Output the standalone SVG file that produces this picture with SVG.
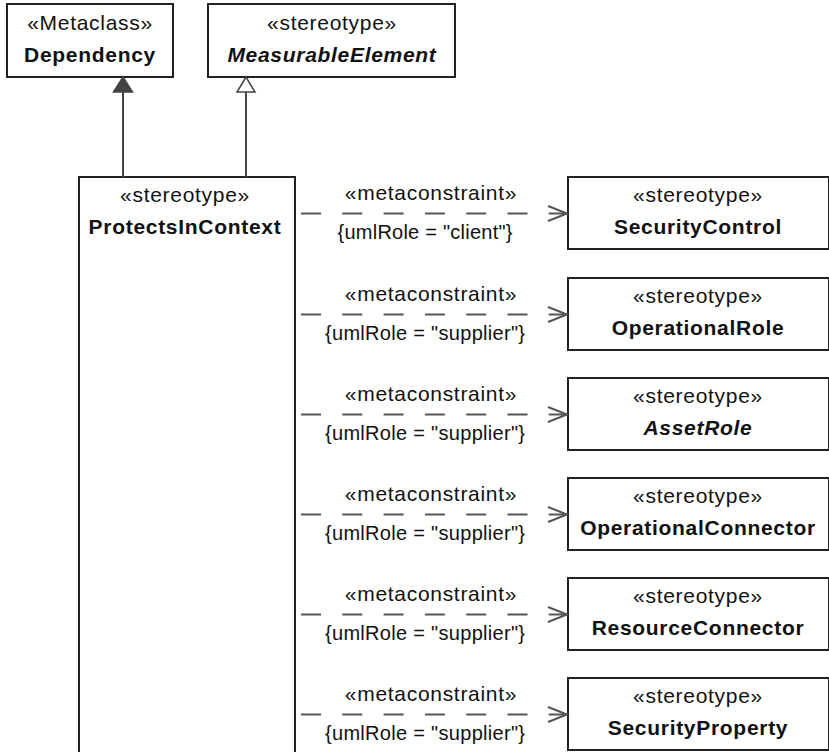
<svg xmlns="http://www.w3.org/2000/svg" width="829" height="752" viewBox="0 0 829 752">
<defs>
<style>
.box{fill:#fff;stroke:#222;stroke-width:2}
.t{font-family:"Liberation Sans",Arial,sans-serif;font-size:21px;letter-spacing:0.7px;text-anchor:middle;fill:#111}
.b{font-weight:bold}
.i{font-style:italic}
.lbl{font-family:"Liberation Sans",Arial,sans-serif;font-size:20px;text-anchor:middle;fill:#111}
.gen{stroke:#444;stroke-width:2;fill:none}
.dep{stroke:#555;stroke-width:2;fill:none;stroke-dasharray:20 21.3}
.ah{stroke:#555;stroke-width:2;fill:none}
</style>
</defs>
<g id="Dependency">
<rect class="box" x="7" y="4" width="166" height="73"/>
<text class="t" x="90" y="30">«Metaclass»</text>
<text class="t b" x="90" y="62">Dependency</text>
</g>
<g id="MeasurableElement">
<rect class="box" x="208" y="4" width="247" height="73"/>
<text class="t" x="332" y="30">«stereotype»</text>
<text class="t b i" x="332" y="62">MeasurableElement</text>
</g>
<g id="ProtectsInContext">
<rect class="box" x="79" y="177" width="216" height="590"/>
<text class="t" x="185" y="202">«stereotype»</text>
<text class="t b" x="185" y="234">ProtectsInContext</text>
</g>
<g id="SecurityControl">
<rect class="box" x="568" y="177" width="261" height="72"/>
<text class="t" x="698" y="202">«stereotype»</text>
<text class="t b" x="698" y="234">SecurityControl</text>
</g>
<g id="OperationalRole">
<rect class="box" x="568" y="278" width="261" height="72"/>
<text class="t" x="698" y="303">«stereotype»</text>
<text class="t b" x="698" y="335">OperationalRole</text>
</g>
<g id="AssetRole">
<rect class="box" x="568" y="378" width="261" height="72"/>
<text class="t" x="698" y="403">«stereotype»</text>
<text class="t b i" x="698" y="435">AssetRole</text>
</g>
<g id="OperationalConnector">
<rect class="box" x="568" y="478" width="261" height="72"/>
<text class="t" x="698" y="503">«stereotype»</text>
<text class="t b" x="698" y="535">OperationalConnector</text>
</g>
<g id="ResourceConnector">
<rect class="box" x="568" y="578" width="261" height="72"/>
<text class="t" x="698" y="603">«stereotype»</text>
<text class="t b" x="698" y="635">ResourceConnector</text>
</g>
<g id="SecurityProperty">
<rect class="box" x="568" y="678" width="261" height="72"/>
<text class="t" x="698" y="703">«stereotype»</text>
<text class="t b" x="698" y="735">SecurityProperty</text>
</g>
<g id="connectors">
<line class="gen" x1="123" y1="92" x2="123" y2="177"/>
<polygon points="123,77 113.5,92 132.5,92" fill="#444" stroke="#444" stroke-width="1.5"/>
<line class="gen" x1="246" y1="92" x2="246" y2="177"/>
<polygon points="246,77 237,92 255,92" fill="#fff" stroke="#444" stroke-width="1.5"/>
<g id="c1">
<line class="dep" x1="301" y1="213.5" x2="567" y2="213.5"/>
<polyline class="ah" points="548,206 567,213.5 548,221"/>
<text class="t" x="431" y="200">«metaconstraint»</text>
<text class="lbl" x="425" y="239" textLength="175" lengthAdjust="spacing">{umlRole = "client"}</text>
</g>
<g id="c2">
<line class="dep" x1="301" y1="314.5" x2="567" y2="314.5"/>
<polyline class="ah" points="548,307 567,314.5 548,322"/>
<text class="t" x="431" y="301">«metaconstraint»</text>
<text class="lbl" x="425" y="340" textLength="200" lengthAdjust="spacing">{umlRole = "supplier"}</text>
</g>
<g id="c3">
<line class="dep" x1="301" y1="414.5" x2="567" y2="414.5"/>
<polyline class="ah" points="548,407 567,414.5 548,422"/>
<text class="t" x="431" y="401">«metaconstraint»</text>
<text class="lbl" x="425" y="440" textLength="200" lengthAdjust="spacing">{umlRole = "supplier"}</text>
</g>
<g id="c4">
<line class="dep" x1="301" y1="514.5" x2="567" y2="514.5"/>
<polyline class="ah" points="548,507 567,514.5 548,522"/>
<text class="t" x="431" y="501">«metaconstraint»</text>
<text class="lbl" x="425" y="540" textLength="200" lengthAdjust="spacing">{umlRole = "supplier"}</text>
</g>
<g id="c5">
<line class="dep" x1="301" y1="614.5" x2="567" y2="614.5"/>
<polyline class="ah" points="548,607 567,614.5 548,622"/>
<text class="t" x="431" y="601">«metaconstraint»</text>
<text class="lbl" x="425" y="640" textLength="200" lengthAdjust="spacing">{umlRole = "supplier"}</text>
</g>
<g id="c6">
<line class="dep" x1="301" y1="714.5" x2="567" y2="714.5"/>
<polyline class="ah" points="548,707 567,714.5 548,722"/>
<text class="t" x="431" y="701">«metaconstraint»</text>
<text class="lbl" x="425" y="740" textLength="200" lengthAdjust="spacing">{umlRole = "supplier"}</text>
</g>
</g>
</svg>
